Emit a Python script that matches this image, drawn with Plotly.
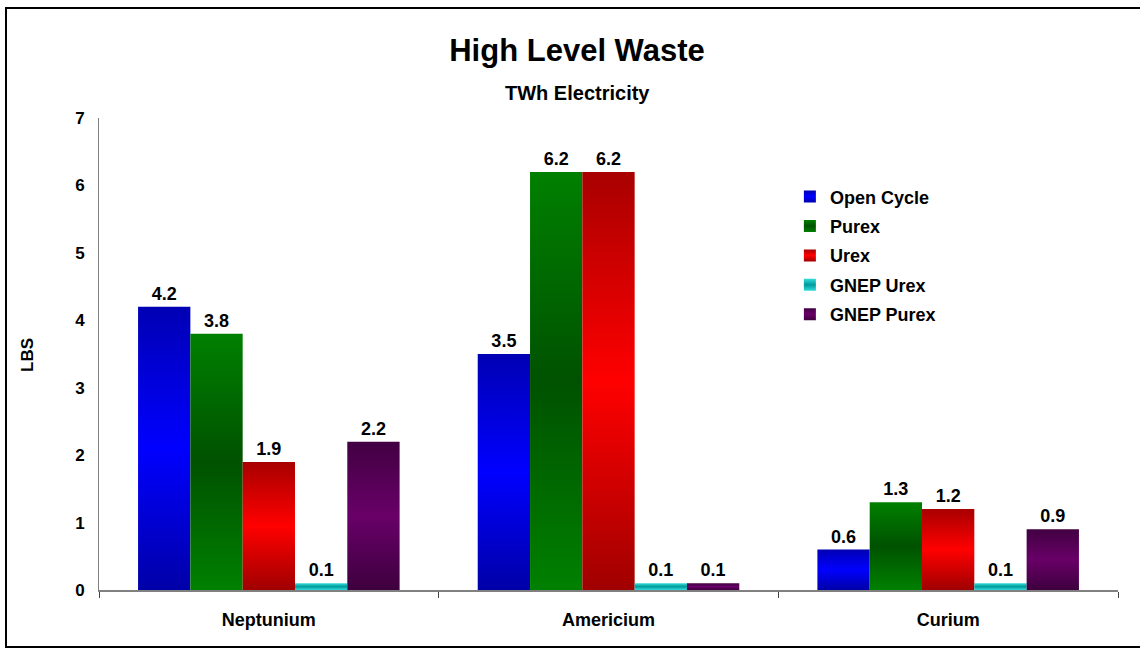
import plotly.graph_objects as go

# Elements and scenarios
elements = ["Neptunium", "Americium", "Curium"]
series_names = ["Open Cycle", "Purex", "Urex", "GNEP Urex", "GNEP Purex"]
open_cycle = [4.2, 3.5, 0.6]
purex = [3.8, 6.2, 1.3]
urex = [1.9, 6.2, 1.2]
gnep_urex = [0.1, 0.1, 0.1]
gnep_purex = [2.2, 0.1, 0.9]
y_ticks = [0, 1, 2, 3, 4, 5, 6, 7]

series_values = [open_cycle, purex, urex, gnep_urex, gnep_purex]

# Vertical gradient stops (top, middle, bottom) for each series
gradients = [
    ("#0000B4", "#0000FF", "#0000A8"),
    ("#008000", "#005200", "#008000"),
    ("#A80000", "#FF0000", "#A00000"),
    ("#33DDDD", "#009A9A", "#33DDDD"),
    ("#420042", "#680068", "#3E003E"),
]

FONT = "Arial, 'Liberation Sans', sans-serif"


def bold(size):
    return dict(family=FONT, size=size, color="#000000", weight="bold")


fig = go.Figure()
for name, vals, grad in zip(series_names, series_values, gradients):
    fig.add_trace(go.Bar(
        name=name,
        legendgroup=name,
        x=elements,
        y=vals,
        marker=dict(color=grad[1], line=dict(width=0)),
        text=vals,
        texttemplate="%{y:.1f}",
        textposition="outside",
        textfont=bold(18),
        cliponaxis=False,
        hoverinfo="skip",
    ))

fig.update_layout(
    width=1140,
    height=650,
    margin=dict(l=99, r=22, t=118, b=60),
    paper_bgcolor="white",
    plot_bgcolor="white",
    barmode="group",
    bargap=0.23,
    bargroupgap=0,
    font=dict(family=FONT, color="#000000"),
    title=dict(
        text="High Level Waste",
        font=bold(31),
        xref="container", x=577 / 1140, xanchor="center",
        yref="container", y=1 - 50 / 650, yanchor="middle",
    ),
    legend=dict(
        x=0.678, xanchor="left",
        y=0.872, yanchor="top",
        font=bold(18),
        bgcolor="rgba(0,0,0,0)",
        tracegroupgap=3,
        traceorder="grouped",
    ),
    showlegend=True,
)

fig.update_xaxes(
    type="category",
    showline=True, linecolor="#808080", linewidth=2,
    ticks="outside", tickson="boundaries", ticklen=6, tickcolor="#404040",
    tickfont=bold(18),
    ticklabelstandoff=12,
    showgrid=False, zeroline=False,
)
fig.update_yaxes(
    range=[0, 7],
    tickvals=y_ticks,
    showline=True, linecolor="#808080", linewidth=1,
    ticks="outside", ticklen=10, tickcolor="rgba(0,0,0,0)",
    tickfont=bold(17),
    showgrid=False, zeroline=False,
)

# Subtitle and axis title
fig.add_annotation(
    text="TWh Electricity", xref="paper", yref="paper",
    x=(577 - 99) / 1019, y=(590 - 93) / 472,
    xanchor="center", yanchor="middle", showarrow=False,
    font=bold(20),
)
fig.add_annotation(
    text="LBS", xref="paper", yref="paper",
    x=(27 - 99) / 1019, y=(590 - 355) / 472,
    xanchor="center", yanchor="middle", showarrow=False, textangle=-90,
    font=bold(17),
)

# Chart frame
fig.add_shape(
    type="rect", xref="paper", yref="paper",
    x0=(6 - 99) / 1019, x1=(1145 - 99) / 1019,
    y0=(590 - 647) / 472, y1=(590 - 8) / 472,
    line=dict(color="#000000", width=2), fillcolor="rgba(0,0,0,0)",
    layer="below",
)

# Apply vertical gradients to bars and legend swatches
stops_js = "[" + ",".join("['%s','%s','%s']" % g for g in gradients) + "]"
post_script = """
var gd = document.getElementById('{plot_id}');
var NS = 'http://www.w3.org/2000/svg';
var grads = %s;
function paint() {
  var defs = gd.querySelector('svg.main-svg defs');
  grads.forEach(function(g, i) {
    var id = 'bargrad' + i;
    if (document.getElementById(id)) return;
    var lg = document.createElementNS(NS, 'linearGradient');
    lg.setAttribute('id', id);
    lg.setAttribute('x1', '0'); lg.setAttribute('y1', '0');
    lg.setAttribute('x2', '0'); lg.setAttribute('y2', '1');
    [[0, g[0]], [0.5, g[1]], [1, g[2]]].forEach(function(s) {
      var st = document.createElementNS(NS, 'stop');
      st.setAttribute('offset', s[0]);
      st.setAttribute('stop-color', s[1]);
      lg.appendChild(st);
    });
    defs.appendChild(lg);
  });
  gd.querySelectorAll('.barlayer .trace').forEach(function(tr, i) {
    tr.querySelectorAll('path').forEach(function(p) {
      p.style.fill = 'url(#bargrad' + i + ')';
    });
  });
  gd.querySelectorAll('.legend .traces').forEach(function(tr, i) {
    tr.querySelectorAll('.legendpoints path').forEach(function(p) {
      p.style.fill = 'url(#bargrad' + i + ')';
    });
  });
}
paint();
gd.on('plotly_afterplot', paint);
""" % stops_js

fig.write_html("out.html", post_script=post_script)
